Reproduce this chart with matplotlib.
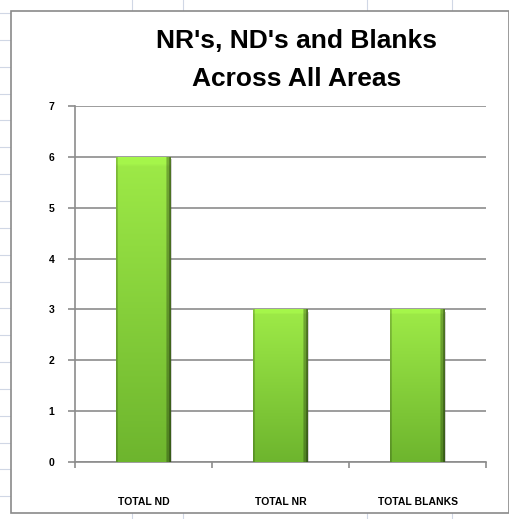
import numpy as np
import matplotlib.pyplot as plt
import matplotlib.patheffects as pe
from matplotlib.patches import Rectangle
from matplotlib.lines import Line2D

categories = ["TOTAL ND", "TOTAL NR", "TOTAL BLANKS"]
values = [6, 3, 3]
title = "NR's, ND's and Blanks\nAcross All Areas"

W, H = 510, 519
fig = plt.figure(figsize=(W / 100, H / 100), dpi=100)
fig.patch.set_facecolor("white")

# spreadsheet grid behind the chart
grid_c = "#d0d7e5"
for xv in [132, 183, 367, 452]:
    fig.add_artist(Line2D([xv / W, xv / W], [0, 1], color=grid_c, lw=0.8, zorder=0))
for yv in np.arange(13, 519, 26.85):
    fig.add_artist(Line2D([0, 1], [1 - yv / H, 1 - yv / H], color=grid_c, lw=0.8, zorder=0))

# chart area (white box with grey border)
fig.add_artist(Rectangle((11 / W, 6 / H), 498 / W, 502 / H, transform=fig.transFigure,
                         facecolor="white", edgecolor="#8a8a8a", lw=1.2, zorder=1))

ax = fig.add_axes([75 / W, 57 / H, 411 / W, 356 / H], zorder=2)
ax.set_facecolor("white")

x = np.arange(len(categories))
bars = ax.bar(x, values, width=0.4, color="#84d23a", zorder=3,
              path_effects=[pe.SimplePatchShadow(offset=(0.8, -1.5), alpha=0.25, shadow_rgbFace="#555555"), pe.Normal()])

# gradient fill for each bar
top = np.array([0.62, 0.92, 0.28])
bot = np.array([0.43, 0.71, 0.18])
ny, nx = 100, 60
t = np.linspace(0, 1, ny)[:, None, None]
col = top * (1 - t) + bot * t
col = np.repeat(col, nx, axis=1)
u = np.linspace(0, 1, nx)
shade = np.ones(nx)
shade[u > 0.93] = 0.72
shade[u > 0.97] = 0.5
shade[u < 0.03] = 0.8
col = col * shade[None, :, None]
col[:3, :, :] = np.clip(col[:3, :, :] * 1.05, 0, 1)
for b in bars:
    bx, by = b.get_x(), b.get_y()
    im = ax.imshow(col, extent=[bx, bx + b.get_width(), by, by + b.get_height()],
                   aspect="auto", zorder=4, interpolation="bilinear")
    im.set_clip_path(b)

ax.set_xlim(-0.5, 2.5)
ax.set_ylim(0, 7)
ax.set_yticks(range(0, 8))
ax.yaxis.grid(True, color="#8c8c8c", lw=1.2, zorder=1)
ax.set_axisbelow(True)
for s in ["top", "right"]:
    ax.spines[s].set_visible(False)
for s in ["left", "bottom"]:
    ax.spines[s].set_color("#8c8c8c")
    ax.spines[s].set_linewidth(1.2)

ax.set_xticks([-0.5, 0.5, 1.5, 2.5])
ax.set_xticklabels([])
ax.set_xticks(x, minor=True)
ax.set_xticklabels(categories, minor=True, fontsize=7.5, fontweight="bold", family="Liberation Sans")
ax.tick_params(axis="x", which="major", direction="out", length=4, color="#8c8c8c", width=1.2)
ax.tick_params(axis="x", which="minor", length=0, pad=25)
ax.tick_params(axis="y", direction="out", length=5, color="#8c8c8c", width=1.2, pad=10, labelsize=7.5)
for lab in ax.get_yticklabels():
    lab.set_fontweight("bold")
    lab.set_family("Liberation Sans")

fig.text(297 / W, 1 - 60 / H, title, ha="center", va="center", fontsize=19,
         fontweight="bold", family="Liberation Sans", linespacing=1.75)

fig.savefig("out.png", dpi=100)
